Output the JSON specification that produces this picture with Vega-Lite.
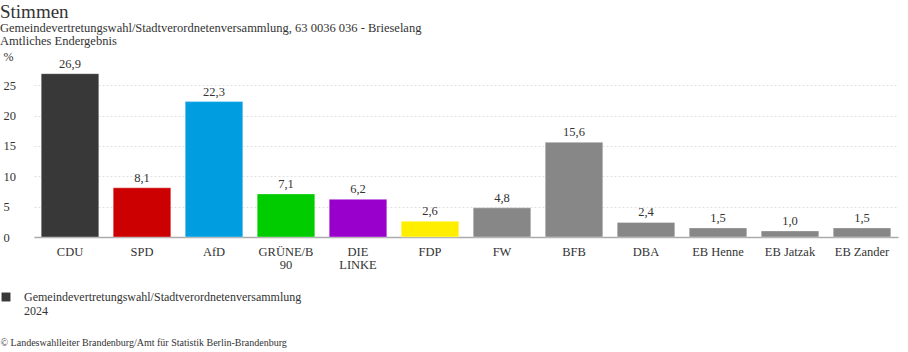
{
  "$schema": "https://vega.github.io/schema/vega-lite/v6.json",
  "autosize": "none",
  "width": 864,
  "height": 170,
  "padding": {"left": 34, "top": 67, "right": 10, "bottom": 115},
  "background": "white",
  "config": {
    "font": "Liberation Serif",
    "text": {"font": "Liberation Serif"},
    "axis": {"labelFont": "Liberation Serif", "titleFont": "Liberation Serif"},
    "legend": {"labelFont": "Liberation Serif"},
    "view": {"stroke": null},
    "locale": {"number": {"decimal": ",", "thousands": ".", "grouping": [3], "currency": ["", " €"]}}
  },
  "title": {
    "text": "Stimmen",
    "subtitle": ["Gemeindevertretungswahl/Stadtverordnetenversammlung, 63 0036 036 - Brieselang", "Amtliches Endergebnis"],
    "anchor": "start",
    "frame": "group",
    "dx": -34,
    "offset": 3,
    "fontSize": 19,
    "fontWeight": "normal",
    "color": "#333333",
    "subtitleFontSize": 12.5,
    "subtitleColor": "#333333",
    "subtitleLineHeight": 12.5,
    "subtitlePadding": 0,
    "font": "Liberation Serif",
    "subtitleFont": "Liberation Serif"
  },
  "data": {
    "values": [
      {"party": "CDU", "value": 26.9, "series": "Gemeindevertretungswahl/Stadtverordnetenversammlung 2024"},
      {"party": "SPD", "value": 8.1, "series": "Gemeindevertretungswahl/Stadtverordnetenversammlung 2024"},
      {"party": "AfD", "value": 22.3, "series": "Gemeindevertretungswahl/Stadtverordnetenversammlung 2024"},
      {"party": "GRÜNE/B 90", "value": 7.1, "series": "Gemeindevertretungswahl/Stadtverordnetenversammlung 2024"},
      {"party": "DIE LINKE", "value": 6.2, "series": "Gemeindevertretungswahl/Stadtverordnetenversammlung 2024"},
      {"party": "FDP", "value": 2.6, "series": "Gemeindevertretungswahl/Stadtverordnetenversammlung 2024"},
      {"party": "FW", "value": 4.8, "series": "Gemeindevertretungswahl/Stadtverordnetenversammlung 2024"},
      {"party": "BFB", "value": 15.6, "series": "Gemeindevertretungswahl/Stadtverordnetenversammlung 2024"},
      {"party": "DBA", "value": 2.4, "series": "Gemeindevertretungswahl/Stadtverordnetenversammlung 2024"},
      {"party": "EB Henne", "value": 1.5, "series": "Gemeindevertretungswahl/Stadtverordnetenversammlung 2024"},
      {"party": "EB Jatzak", "value": 1.0, "series": "Gemeindevertretungswahl/Stadtverordnetenversammlung 2024"},
      {"party": "EB Zander", "value": 1.5, "series": "Gemeindevertretungswahl/Stadtverordnetenversammlung 2024"}
    ]
  },
  "encoding": {
    "x": {
      "field": "party",
      "type": "nominal",
      "sort": null,
      "scale": {"paddingInner": 0.2, "paddingOuter": 0.1},
      "axis": {
        "title": "© Landeswahlleiter Brandenburg/Amt für Statistik Berlin-Brandenburg",
        "titleX": -34,
        "titleY": 100,
        "titleAlign": "left",
        "titleAnchor": null,
        "titleFontSize": 10,
        "titleFontWeight": "normal",
        "titleColor": "#333333",
        "titleFont": "Liberation Serif",
        "labelAngle": 0,
        "labelFontSize": 12.5,
        "labelColor": "#333333",
        "labelPadding": 8,
        "labelLineHeight": 13,
        "labelFont": "Liberation Serif",
        "labelExpr": "datum.label == 'GRÜNE/B 90' ? ['GRÜNE/B', '90'] : datum.label == 'DIE LINKE' ? ['DIE', 'LINKE'] : datum.label",
        "ticks": false,
        "domainColor": "#aaaaaa",
        "domainWidth": 1.5
      }
    },
    "y": {
      "field": "value",
      "type": "quantitative",
      "scale": {"domain": [0, 28], "nice": false},
      "axis": {
        "title": "%",
        "titleAngle": 0,
        "titleX": -31,
        "titleY": -4,
        "titleAlign": "left",
        "titleFontSize": 12,
        "titleFontWeight": "normal",
        "titleColor": "#333333",
        "titleFont": "Liberation Serif",
        "values": [0, 5, 10, 15, 20, 25],
        "labelFontSize": 12.5,
        "labelColor": "#333333",
        "labelFont": "Liberation Serif",
        "labelAlign": "left",
        "labelPadding": 31,
        "ticks": false,
        "domain": false,
        "grid": true,
        "gridColor": "#e0e0e0",
        "gridDash": [2, 2],
        "gridWidth": 1
      }
    }
  },
  "layer": [
    {
      "mark": {"type": "bar", "strokeWidth": 1, "strokeOpacity": 0.35},
      "encoding": {
        "fill": {
          "field": "party",
          "type": "nominal",
          "legend": null,
          "scale": {
            "domain": ["CDU", "SPD", "AfD", "GRÜNE/B 90", "DIE LINKE", "FDP", "FW", "BFB", "DBA", "EB Henne", "EB Jatzak", "EB Zander"],
            "range": ["#383838", "#cc0000", "#009ee0", "#00cc00", "#9900cc", "#ffee00", "#878787", "#878787", "#878787", "#878787", "#878787", "#878787"]
          }
        },
        "stroke": {
          "field": "series",
          "type": "nominal",
          "scale": {"range": ["#ffffff"]},
          "legend": {
            "title": null,
            "orient": "none",
            "legendX": -34,
            "legendY": 224,
            "symbolType": "square",
            "symbolSize": 80,
            "symbolFillColor": "#383838",
            "symbolStrokeWidth": 0,
            "labelFontSize": 12,
            "labelColor": "#333333",
            "labelFont": "Liberation Serif",
            "labelLineHeight": 13,
            "labelOffset": 12,
            "labelLimit": 400,
            "labelExpr": "['Gemeindevertretungswahl/Stadtverordnetenversammlung', '2024']",
            "encode": {"symbols": {"update": {"fill": {"value": "#383838"}, "stroke": {"value": "#383838"}}}}
          }
        }
      }
    },
    {
      "mark": {"type": "text", "baseline": "bottom", "dy": -3, "fontSize": 12.5, "color": "#333333", "font": "Liberation Serif"},
      "encoding": {
        "text": {"field": "value", "type": "quantitative", "format": ".1f"}
      }
    }
  ]
}
